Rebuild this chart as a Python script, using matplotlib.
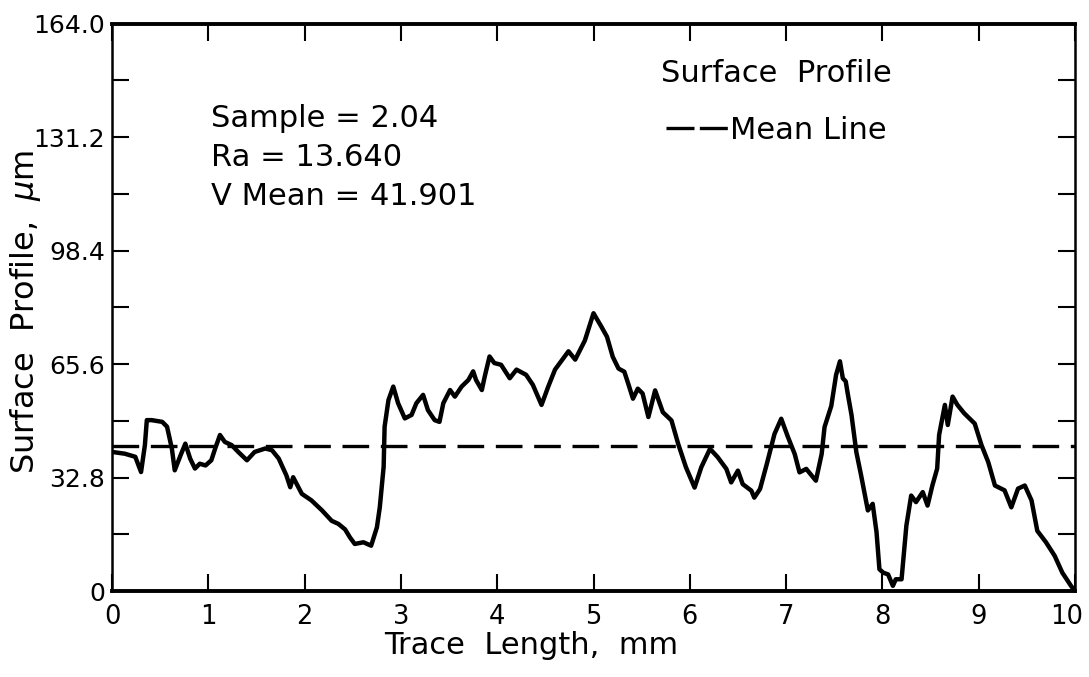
import numpy as np
import matplotlib
matplotlib.use("Agg")
import matplotlib.pyplot as plt
from matplotlib.lines import Line2D
from matplotlib.ticker import MultipleLocator
from matplotlib.transforms import ScaledTranslation

# profile trace (x in mm, y in um)
trace_x = [0.00, 0.13, 0.24, 0.30, 0.34, 0.36, 0.41, 0.52, 0.57, 0.62, 0.65, 0.71, 0.76,
           0.81, 0.86, 0.91, 0.97, 1.03, 1.07, 1.12, 1.17, 1.24, 1.31, 1.40, 1.48, 1.59,
           1.66, 1.73, 1.81, 1.85, 1.88, 1.97, 2.07, 2.18, 2.28, 2.35, 2.42, 2.47, 2.52,
           2.61, 2.69, 2.75, 2.78, 2.82, 2.83, 2.87, 2.92, 2.97, 3.04, 3.11, 3.16, 3.23,
           3.28, 3.35, 3.40, 3.44, 3.51, 3.56, 3.63, 3.70, 3.75, 3.78, 3.84, 3.87, 3.92,
           3.97, 4.04, 4.13, 4.20, 4.30, 4.37, 4.46, 4.53, 4.60, 4.74, 4.81, 4.91, 5.00,
           5.08, 5.14, 5.20, 5.26, 5.32, 5.36, 5.41, 5.46, 5.51, 5.57, 5.64, 5.72, 5.81,
           5.88, 5.96, 6.05, 6.12, 6.21, 6.29, 6.38, 6.43, 6.50, 6.55, 6.64, 6.67, 6.73,
           6.80, 6.88, 6.95, 7.02, 7.09, 7.14, 7.21, 7.31, 7.37, 7.40, 7.47, 7.52, 7.56,
           7.59, 7.62, 7.64, 7.68, 7.73, 7.78, 7.85, 7.90, 7.94, 7.97, 8.01, 8.06, 8.11,
           8.14, 8.20, 8.25, 8.30, 8.35, 8.42, 8.47, 8.52, 8.57, 8.59, 8.65, 8.68, 8.73,
           8.78, 8.85, 8.96, 9.03, 9.10, 9.17, 9.27, 9.34, 9.41, 9.48, 9.55, 9.61, 9.70,
           9.79, 9.87, 9.96, 10.00]
trace_y = [40.2, 39.7, 38.8, 34.4, 42.2, 49.4, 49.4, 48.9, 47.5, 41.2, 34.9, 39.2, 42.6,
           38.3, 35.4, 36.8, 36.3, 37.8, 41.2, 45.1, 43.1, 42.2, 40.2, 37.8, 40.2, 41.2,
           40.7, 38.3, 33.4, 30.0, 32.9, 28.1, 26.2, 23.3, 20.3, 19.4, 17.8, 15.5, 13.6,
           14.1, 13.1, 18.4, 24.2, 35.9, 47.5, 55.2, 59.1, 54.3, 49.9, 50.9, 54.3, 56.7,
           52.3, 49.4, 48.9, 54.3, 58.1, 56.2, 59.1, 61.0, 63.5, 61.0, 58.1, 62.0, 67.8,
           65.9, 65.4, 61.5, 64.0, 62.5, 59.6, 53.8, 59.1, 64.0, 69.3, 66.9, 72.4, 80.3,
           76.5, 73.5, 67.7, 64.3, 63.4, 60.0, 55.6, 58.5, 57.1, 50.3, 58.0, 51.7, 49.3,
           42.5, 35.8, 29.9, 35.8, 41.1, 38.7, 35.3, 31.4, 34.8, 30.9, 29.0, 27.0, 29.5,
           36.7, 45.4, 49.8, 44.5, 39.6, 34.3, 35.3, 31.9, 39.6, 47.4, 53.5, 62.5, 66.4,
           61.5, 60.6, 57.2, 50.9, 40.2, 33.4, 23.3, 25.2, 17.0, 6.3, 5.3, 4.8, 1.5,
           3.4, 3.4, 18.9, 27.6, 25.7, 28.6, 24.7, 30.5, 35.4, 45.1, 53.8, 48.0, 56.2,
           53.8, 51.4, 48.4, 42.2, 37.3, 30.5, 29.1, 24.2, 29.6, 30.5, 26.2, 17.4, 14.1,
           10.2, 5.3, 1.5, 0.0]

sample = "2.04"
ra = 13.640
v_mean = 41.901

y_ticks = [0, 32.8, 65.6, 98.4, 131.2, 164.0]
y_labels = ["0", "32.8", "65.6", "98.4", "131.2", "164.0"]
x_ticks = list(range(0, 11))

plt.rcParams['font.family'] = ['DejaVu Sans']

fig = plt.figure(figsize=(10.89, 6.77), dpi=100)
ax = fig.add_axes([0.103, 0.127, 0.884, 0.838])

ax.plot(trace_x, trace_y, color='black', lw=3.2, solid_joinstyle='round')
ax.axhline(v_mean, color='black', lw=2.4, dashes=(8, 3.5))

ax.set_xlim(0, 10)
ax.set_ylim(0, 164)

ax.set_yticks(y_ticks)
ax.set_yticklabels(y_labels)
ax.yaxis.set_minor_locator(MultipleLocator(16.4))
ax.set_xticks(x_ticks)
ax.tick_params(axis='both', which='both', direction='in', length=12, width=1.5,
               top=True, right=True)
ax.tick_params(axis='x', pad=9, labelsize=18.5)
ax.tick_params(axis='y', pad=5, labelsize=18)
ax.tick_params(axis='y', which='minor', left=True, right=True)
ax.spines['top'].set_linewidth(2.8)
ax.spines['bottom'].set_linewidth(2.8)
ax.spines['left'].set_linewidth(1.8)
ax.spines['right'].set_linewidth(1.8)

# keep the "10" inside the figure, as in the scan
last = ax.get_xticklabels()[-1]
last.set_transform(last.get_transform() + ScaledTranslation(-8 / 100, 0, fig.dpi_scale_trans))

ax.set_xlabel("Trace  Length,  mm", fontsize=22)
ax.xaxis.set_label_coords(0.435, -0.07)
ax.set_ylabel(r"Surface  Profile,  $\mu$m", fontsize=23)
ax.yaxis.set_label_coords(-0.072, 0.493)

ax.text(0.103, 0.858, "Sample = %s\nRa = %.3f\nV Mean = %.3f" % (sample, ra, v_mean),
        transform=ax.transAxes, fontsize=22, va='top', ha='left', linespacing=1.42)

leg = ax.legend([Line2D([], [], color='black', lw=2.4, dashes=(8.4, 1.6))], ["Mean Line"],
                title="Surface  Profile", loc='upper center', bbox_to_anchor=(0.69, 0.975),
                frameon=False, fontsize=22, title_fontsize=22, handlelength=2.1,
                handletextpad=0.0, borderpad=0.2, labelspacing=0.9)

fig.savefig("out.png", dpi=100)
